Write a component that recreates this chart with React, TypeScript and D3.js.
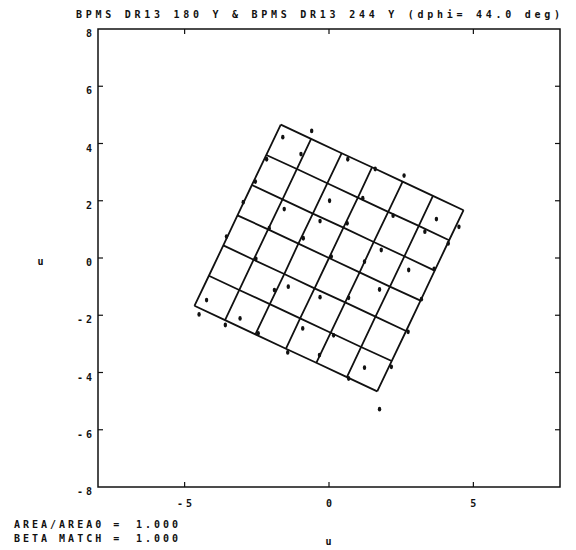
import React from "react";
import * as d3 from "d3";

// tick values on the frame
const xTicks = [-5, 0, 5];
const yTicks = [8, 6, 4, 2, 0, -2, -4, -6, -8];

// mesh nodes, one row per line of the grid (7 x 7)
const gridU = [
  [-1.67, -0.62, 0.44, 1.49, 2.55, 3.6, 4.66],
  [-2.17, -1.11, -0.06, 1.0, 2.05, 3.11, 4.16],
  [-2.67, -1.61, -0.56, 0.5, 1.55, 2.61, 3.66],
  [-3.17, -2.11, -1.06, 0.0, 1.06, 2.11, 3.17],
  [-3.66, -2.61, -1.55, -0.5, 0.56, 1.61, 2.67],
  [-4.16, -3.11, -2.05, -1.0, 0.06, 1.11, 2.17],
  [-4.66, -3.6, -2.55, -1.49, -0.44, 0.62, 1.67],
];
const gridV = [
  [4.66, 4.16, 3.66, 3.17, 2.67, 2.17, 1.67],
  [3.6, 3.11, 2.61, 2.11, 1.61, 1.12, 0.62],
  [2.55, 2.05, 1.55, 1.06, 0.56, 0.06, -0.44],
  [1.49, 1.0, 0.5, 0.0, -0.5, -1.0, -1.49],
  [0.44, -0.06, -0.56, -1.06, -1.55, -2.05, -2.55],
  [-0.62, -1.12, -1.61, -2.11, -2.61, -3.11, -3.6],
  [-1.67, -2.17, -2.67, -3.17, -3.66, -4.16, -4.66],
];

// measured points
const dotU = [
  -1.6, -0.6, -0.97, -2.16, -2.55, 0.02, -1.55, -2.97, -0.31, -0.89, -2.07, -3.55,
  -2.53, 0.65, 1.6, 2.6, 1.17, 2.22, 3.72, 4.5, 0.63, 3.32, 4.13, 1.81, 0.08, 1.23,
  -4.24, -4.5, -3.08, -3.59, -1.89, -1.41, -0.31, -0.91, -2.45, -1.43, -0.33, 0.16,
  2.76, 3.64, 1.75, 3.2, 0.68, 2.74, 1.23, 2.16, 0.68, 1.75,
];
const dotV = [
  4.22, 4.44, 3.63, 3.45, 2.67, 2.0, 1.71, 1.95, 1.29, 0.69, 1.04, 0.75,
  -0.03, 3.45, 3.11, 2.88, 2.09, 1.48, 1.36, 1.09, 1.21, 0.92, 0.51, 0.28, 0.05, -0.13,
  -1.47, -1.97, -2.11, -2.34, -1.12, -1.0, -1.37, -2.46, -2.63, -3.3, -3.39, -2.7,
  -0.42, -0.38, -1.1, -1.44, -1.39, -2.58, -3.83, -3.8, -4.21, -5.28,
];

const title = "BPMS DR13 180 Y & BPMS DR13 244 Y (dphi= 44.0 deg)";

const W = 576;
const H = 550;
const left = 98;
const right = 560;
const top = 29;
const bottom = 487;

const font = "'DejaVu Sans Mono', monospace";

export default function App() {
  const x = d3.scaleLinear().domain([-8, 8]).range([left, right]);
  const y = d3.scaleLinear().domain([-8, 8]).range([bottom, top]);

  const line = d3
    .line<[number, number]>()
    .x((d) => x(d[0]))
    .y((d) => y(d[1]));

  const rows = gridU.map((r, j) => r.map((u, i) => [u, gridV[j][i]] as [number, number]));
  const cols = gridU[0].map((_, i) => gridU.map((r, j) => [r[i], gridV[j][i]] as [number, number]));

  const txt = {
    fontFamily: font,
    fontSize: 10,
    fontWeight: "bold" as const,
    letterSpacing: 3,
    fill: "#111",
  };

  return (
    <svg width={W} height={H} style={{ position: "absolute", left: 0, top: 0, background: "#fff" }}>
      <text x={76} y={18} textLength={487} lengthAdjust="spacing" {...txt}>
        {title}
      </text>

      {/* frame */}
      <rect x={left} y={top} width={right - left} height={bottom - top} fill="none" stroke="#111" strokeWidth={1.5} />

      {xTicks.map((t) => (
        <g key={"x" + t}>
          <line x1={x(t)} x2={x(t)} y1={top} y2={top + 5} stroke="#111" strokeWidth={1.2} />
          <line x1={x(t)} x2={x(t)} y1={bottom} y2={bottom - 5} stroke="#111" strokeWidth={1.2} />
          <text x={x(t) + 1.5} y={507} textAnchor="middle" {...txt}>
            {String(t)}
          </text>
        </g>
      ))}

      {yTicks.map((t) => (
        <g key={"y" + t}>
          {t !== 8 && t !== -8 && (
            <>
              <line x1={left} x2={left + 5} y1={y(t)} y2={y(t)} stroke="#111" strokeWidth={1.2} />
              <line x1={right} x2={right - 5} y1={y(t)} y2={y(t)} stroke="#111" strokeWidth={1.2} />
            </>
          )}
          <text x={95} y={y(t) + 8} textAnchor="end" {...txt}>
            {String(t)}
          </text>
        </g>
      ))}

      {/* mesh */}
      {rows.map((r, j) => (
        <path key={"r" + j} d={line(r) ?? ""} fill="none" stroke="#111" strokeWidth={1.8} strokeLinejoin="round" />
      ))}
      {cols.map((c, i) => (
        <path key={"c" + i} d={line(c) ?? ""} fill="none" stroke="#111" strokeWidth={1.8} strokeLinejoin="round" />
      ))}

      {dotU.map((u, i) => (
        <ellipse key={"d" + i} cx={x(u)} cy={y(dotV[i])} rx={1.7} ry={2.4} fill="#111" />
      ))}

      {/* axis names and footer */}
      <text x={330} y={545} textAnchor="middle" {...txt}>u</text>
      <text x={42} y={265} textAnchor="middle" {...txt}>u</text>

      <text x={14} y={528} {...txt}>AREA/AREA0 =</text>
      <text x={136} y={528} {...txt}>1.000</text>
      <text x={14} y={542} {...txt}>BETA MATCH =</text>
      <text x={136} y={542} {...txt}>1.000</text>
    </svg>
  );
}
